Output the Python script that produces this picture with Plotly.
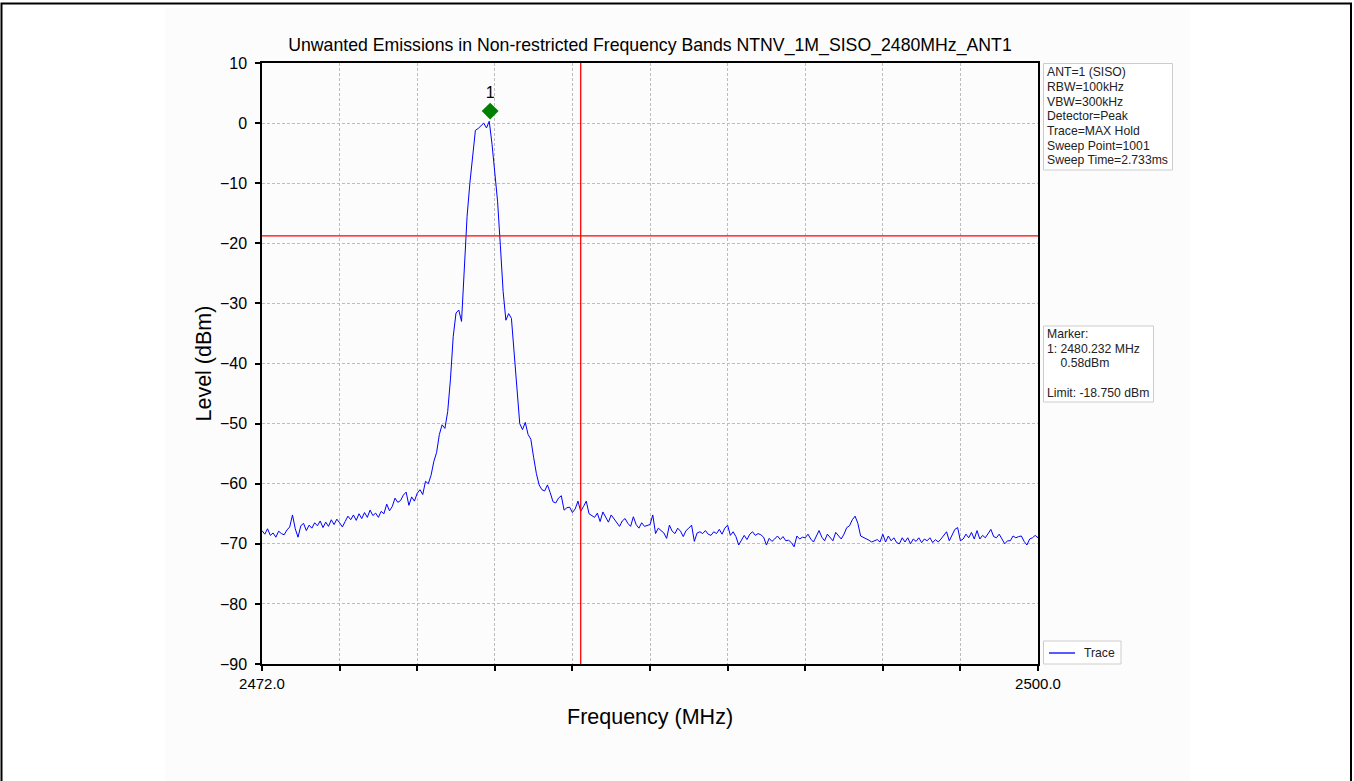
import plotly.graph_objects as go

# sweep: 2472.0 .. 2500.0 MHz, 0.1 MHz step
f_start = 2472.0
f_step = 0.1

level_dbm = [
    -67.8, -68.4, -67.5, -68.6, -68.2, -68.9, -67.9, -68.3, -68.5, -67.7,
    -67.2, -65.2, -67.5, -68.9, -67.0, -66.6, -67.8, -66.9, -67.4, -66.5,
    -67.0, -66.2, -67.3, -66.4, -67.1, -66.0, -66.8, -65.9, -66.5, -67.2,
    -66.3, -65.4, -66.0, -65.2, -66.1, -65.0, -65.8, -64.8, -65.6, -64.4,
    -65.3, -64.9, -65.6, -64.6, -65.0, -63.4, -64.5, -63.8, -62.4, -63.1,
    -62.8, -61.9, -61.4, -63.6, -62.2, -62.9, -61.6, -61.0, -61.8, -59.6,
    -60.0, -58.6, -56.3, -54.8, -51.8, -50.2, -50.8, -48.0, -42.6, -35.5,
    -31.6, -31.1, -33.0, -24.5, -15.5, -10.0, -5.5, -1.2, -0.9, -0.4,
    0.0, -0.8, 0.3, -3.5, -8.7, -13.0, -20.3, -28.0, -32.8, -31.7,
    -32.5, -38.8, -45.0, -50.0, -51.0, -49.8, -51.8, -52.6, -55.6, -58.3,
    -60.2, -61.0, -61.2, -60.2, -61.5, -63.0, -63.2, -62.4, -62.0, -64.4,
    -64.0, -63.9, -64.8, -64.2, -62.9, -64.6, -63.8, -62.9, -65.0, -65.3,
    -65.6, -64.9, -66.3, -64.7, -65.6, -66.4, -65.2, -65.8, -66.3, -67.1,
    -66.2, -65.8, -66.6, -67.1, -65.5, -66.8, -67.4, -66.5, -67.1, -66.9,
    -66.8, -65.2, -68.3, -67.4, -67.8, -68.2, -69.1, -66.9, -67.9, -68.3,
    -67.4, -67.9, -68.8, -67.8, -67.4, -66.9, -69.6, -68.2, -68.0, -68.3,
    -67.8, -68.4, -68.6, -68.0, -68.3, -67.6, -68.4, -67.4, -66.9, -68.6,
    -68.0, -68.8, -70.2, -69.3, -68.6, -69.3, -68.4, -68.0, -68.6, -68.3,
    -68.5, -68.9, -70.2, -69.1, -69.6, -69.2, -68.7, -69.3, -68.8, -69.5,
    -69.4, -69.8, -70.5, -68.7, -69.2, -68.9, -69.0, -68.4, -69.2, -69.7,
    -68.7, -67.8, -68.9, -69.5, -68.4, -69.0, -69.5, -68.1, -68.6, -69.2,
    -68.4, -67.3, -67.0, -66.0, -65.4, -66.6, -68.7, -68.9, -69.2, -69.4,
    -69.7, -69.5, -69.3, -69.7, -68.4, -69.7, -68.7, -69.5, -69.0, -69.8,
    -70.0, -69.0, -69.7, -69.0, -70.0, -69.2, -69.6, -69.0, -69.8, -69.2,
    -69.5, -69.0, -69.8, -69.3, -69.7, -69.2, -68.6, -68.0, -69.5, -68.6,
    -67.6, -67.3, -69.5, -69.2, -68.4, -69.0, -68.1, -69.2, -67.8, -69.2,
    -68.6, -69.0, -68.4, -67.6, -68.8, -69.0, -68.4, -69.2, -70.0, -69.5,
    -69.5, -68.7, -69.0, -68.8, -68.7, -69.6, -70.2, -69.2, -69.0, -68.6,
    -69.0,
]
freq_mhz = [round(f_start + f_step * i, 1) for i in range(len(level_dbm))]

marker_freq = 2480.232
marker_level = 0.58
marker_plot_level = 2.0
limit_dbm = -18.75
band_edge = 2483.5

x_ticks = [2472.0, 2474.8, 2477.6, 2480.4, 2483.2, 2486.0, 2488.8, 2491.6, 2494.4, 2497.2, 2500.0]
x_ticktext = ["2472.0", "", "", "", "", "", "", "", "", "", "2500.0"]
y_ticks = [10, 0, -10, -20, -30, -40, -50, -60, -70, -80, -90]

info_lines = ["ANT=1 (SISO)", "RBW=100kHz", "VBW=300kHz", "Detector=Peak",
              "Trace=MAX Hold", "Sweep Point=1001", "Sweep Time=2.733ms"]
marker_lines = ["Marker:", "1: %.3f MHz" % marker_freq,
                "\u00a0\u00a0\u00a0\u00a0%.2fdBm" % marker_level, "",
                "Limit: %.3f dBm" % limit_dbm]

FONT = "Liberation Sans, Arial, sans-serif"
BG = "#fcfcfc"
GRID = "#bdbdbd"
BOX = "#cccccc"
TXT = "#222222"

# pixel -> paper helpers (plot area is x 262..1038, y 63..664)
def px(x):
    return (x - 262) / 776.0

def py(y):
    return (664 - y) / 601.0

fig = go.Figure()

# spectrum trace
fig.add_trace(go.Scatter(x=freq_mhz, y=level_dbm, mode="lines", name="Trace",
                         line=dict(color="#0000ff", width=1), showlegend=False))

# peak marker
fig.add_trace(go.Scatter(x=[marker_freq], y=[marker_plot_level], mode="markers+text",
                         text=["1"], textposition="top center",
                         textfont=dict(size=16, color="black", family=FONT),
                         marker=dict(symbol="diamond", size=13, color="green"),
                         showlegend=False, hoverinfo="skip"))

# limit line and band edge
fig.add_hline(y=limit_dbm, line=dict(color="red", width=1.3), layer="above")
fig.add_vline(x=band_edge, line=dict(color="red", width=1.3), layer="above")

# matplotlib-like figure panel and outer frame
fig.add_shape(type="rect", xref="paper", yref="paper", x0=px(165), x1=px(1190), y0=py(800), y1=py(8),
              fillcolor=BG, line=dict(width=0), layer="below")
fig.add_shape(type="rect", xref="paper", yref="paper", x0=px(1.5), x1=px(1351), y0=py(820), y1=py(3.5),
              fillcolor="rgba(0,0,0,0)", line=dict(color="black", width=2), layer="below")

# text boxes on the right
def text_box(lines, x0, x1, y0, y1, first_y, step):
    fig.add_shape(type="rect", xref="paper", yref="paper", x0=px(x0), x1=px(x1), y0=py(y1), y1=py(y0),
                  fillcolor="white", line=dict(color=BOX, width=1), layer="above")
    for k, line in enumerate(lines):
        if not line:
            continue
        fig.add_annotation(xref="paper", yref="paper", x=px(x0 + 1.5), y=py(first_y + k * step),
                           xanchor="left", yanchor="middle", text=line, align="left",
                           showarrow=False, font=dict(size=12.2, color=TXT, family=FONT))

text_box(info_lines, 1043.5, 1172.5, 63.5, 170, 72.5, 14.6)
text_box(marker_lines, 1043.5, 1153.5, 326, 402, 334, 14.7)

# legend box drawn like the matplotlib one
fig.add_shape(type="rect", xref="paper", yref="paper", x0=px(1043.5), x1=px(1121), y0=py(664), y1=py(641),
              fillcolor="white", line=dict(color=BOX, width=1), layer="above")
fig.add_shape(type="line", xref="paper", yref="paper", x0=px(1049), x1=px(1075), y0=py(653), y1=py(653),
              line=dict(color="#0000ff", width=1.3), layer="above")
fig.add_annotation(xref="paper", yref="paper", x=px(1082), y=py(653), xanchor="left", yanchor="middle",
                   text="Trace", showarrow=False, font=dict(size=12.2, color=TXT, family=FONT))

# axis titles
fig.add_annotation(xref="paper", yref="paper", x=px(203), y=0.5, xanchor="center", yanchor="middle",
                   text="Level (dBm)", textangle=-90, showarrow=False,
                   font=dict(size=21.5, color="black", family=FONT))
fig.add_annotation(xref="paper", yref="paper", x=0.5, y=py(717), xanchor="center", yanchor="middle",
                   text="Frequency (MHz)", showarrow=False,
                   font=dict(size=21.5, color="black", family=FONT))

fig.update_layout(
    width=1354, height=781,
    margin=dict(l=262, r=316, t=63, b=117),
    paper_bgcolor="white", plot_bgcolor=BG,
    font=dict(family=FONT, color="black"),
    title=dict(text="Unwanted Emissions in Non-restricted Frequency Bands NTNV_1M_SISO_2480MHz_ANT1",
               x=0.5, xref="paper", y=1 - 45 / 781, yanchor="middle",
               font=dict(size=17.7, color="black", family=FONT)),
    showlegend=False,
)

fig.update_xaxes(range=[2472, 2500], tickvals=x_ticks, ticktext=x_ticktext,
                 showgrid=True, gridcolor=GRID, griddash="3px,2px", gridwidth=0.8,
                 showline=True, linecolor="black", linewidth=1.5, mirror=True,
                 ticks="outside", ticklen=5, tickwidth=1.5, tickcolor="black",
                 tickfont=dict(size=15, family=FONT), zeroline=False)
fig.update_yaxes(range=[-90, 10], tickvals=y_ticks,
                 ticktext=[str(v).replace("-", "\u2212") for v in y_ticks],
                 showgrid=True, gridcolor=GRID, griddash="3px,2px", gridwidth=0.8,
                 showline=True, linecolor="black", linewidth=1.5, mirror=True,
                 ticks="outside", ticklen=5, tickwidth=1.5, tickcolor="black",
                 ticklabelstandoff=5,
                 tickfont=dict(size=16, family=FONT), zeroline=False)

# drop the browser's default body margin so the figure sits at the window origin
fig.write_html("out.html", config={"displayModeBar": False},
               post_script="document.body.style.margin='0px';")
